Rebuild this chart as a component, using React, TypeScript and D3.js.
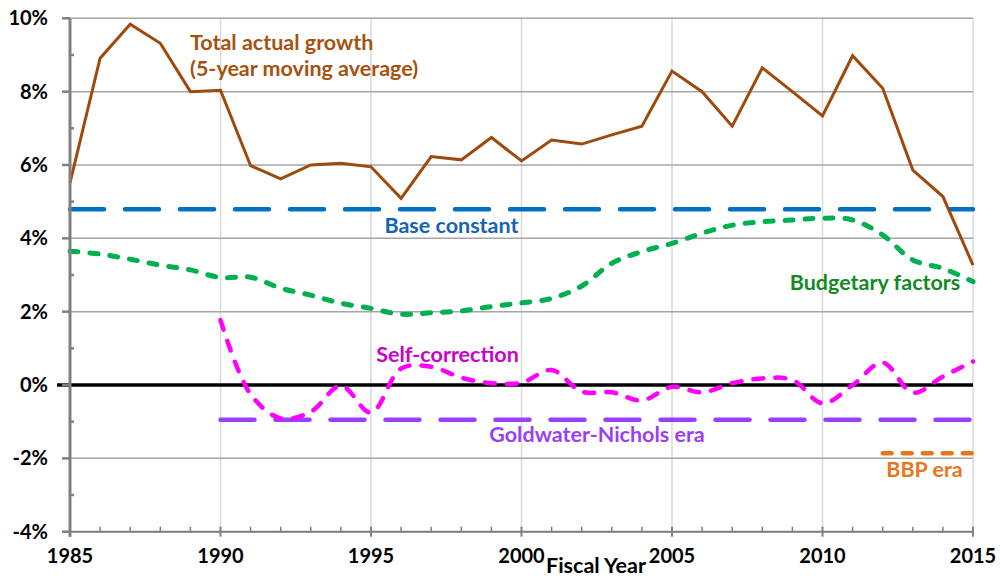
import * as d3 from "d3";

// Fiscal years and series (percent)
const years = d3.range(1985, 2016);

const totalGrowth = [
  5.51, 8.91, 9.84, 9.32, 8.0, 8.04, 5.98, 5.62, 6.0, 6.05,
  5.95, 5.09, 6.23, 6.14, 6.75, 6.11, 6.68, 6.57, 6.82, 7.06,
  8.56, 8.0, 7.06, 8.65, 8.0, 7.34, 8.98, 8.09, 5.86, 5.14, 3.27,
];

const budgetary = [
  3.65, 3.57, 3.43, 3.27, 3.14, 2.93, 2.94, 2.64, 2.45, 2.23,
  2.09, 1.93, 1.97, 2.02, 2.14, 2.24, 2.36, 2.7, 3.32, 3.64,
  3.86, 4.14, 4.36, 4.45, 4.5, 4.55, 4.5, 4.09, 3.41, 3.18, 2.82,
];

const selfYears = d3.range(1990, 2016);
const selfCorrection = [
  1.77, -0.25, -0.91, -0.73, -0.02, -0.75, 0.45, 0.5, 0.2, 0.05,
  0.06, 0.41, -0.18, -0.2, -0.42, -0.05, -0.2, 0.05, 0.18, 0.14,
  -0.5, 0.0, 0.61, -0.21, 0.23, 0.64,
];

const baseConstant = { from: 1985, to: 2015, value: 4.79 };
const goldwater = { from: 1990, to: 2015, value: -0.95 };
const bbp = { from: 2012, to: 2015, value: -1.86 };

const yTicks = [-4, -2, 0, 2, 4, 6, 8, 10];
const yMinor = [-3, -1, 1, 3, 5, 7, 9];
const xMajor = [1985, 1990, 1995, 2000, 2005, 2010, 2015];

const FONT = "Lato, 'Open Sans', sans-serif";
const LABEL_SIZE = 21.5;

export default function App() {
  const x = d3.scaleLinear().domain([1985, 2015]).range([70, 973]);
  const y = d3.scaleLinear().domain([-4, 10]).range([531.7, 18.3]);

  const straight = d3
    .line<[number, number]>()
    .x((d) => x(d[0]))
    .y((d) => y(d[1]));
  const smooth = d3
    .line<[number, number]>()
    .x((d) => x(d[0]))
    .y((d) => y(d[1]))
    .curve(d3.curveCatmullRom.alpha(0.5));

  const totalPts = years.map((yr, i) => [yr, totalGrowth[i]] as [number, number]);
  const budgetPts = years.map((yr, i) => [yr, budgetary[i]] as [number, number]);
  const selfPts = selfYears.map((yr, i) => [yr, selfCorrection[i]] as [number, number]);

  const flat = (s: { from: number; to: number; value: number }) =>
    straight([
      [s.from, s.value],
      [s.to, s.value],
    ]) as string;

  const [x0, x1] = x.range();
  const [yb, yt] = y.range();

  return (
    <svg
      width={1000}
      height={578}
      style={{ position: "absolute", left: 0, top: 0, background: "#fff" }}
      fontFamily={FONT}
    >
      {/* vertical gridlines */}
      {xMajor.slice(1).map((v) => (
        <line key={"vg" + v} x1={x(v)} x2={x(v)} y1={yt} y2={yb} stroke="#d9d9d9" strokeWidth={1.5} />
      ))}
      {/* horizontal gridlines */}
      {yTicks.map((v) => (
        <line key={"hg" + v} x1={x0} x2={x1} y1={y(v)} y2={y(v)} stroke="#a6a6a6" strokeWidth={1.5} />
      ))}

      {/* zero line */}
      <line x1={57} x2={x1} y1={y(0)} y2={y(0)} stroke="#000" strokeWidth={3.5} />

      {/* reference levels */}
      <path d={flat(baseConstant)} fill="none" stroke="#0070C0" strokeWidth={4.5} strokeLinecap="round" strokeDasharray="34 21" />
      <path d={flat(goldwater)} fill="none" stroke="#9B3FFF" strokeWidth={4.5} strokeLinecap="round" strokeDasharray="34 21" />
      <path d={flat(bbp)} fill="none" stroke="#E8761F" strokeWidth={4.5} strokeLinecap="round" strokeDasharray="9 11" />

      {/* series */}
      <path d={smooth(budgetPts) as string} fill="none" stroke="#00B050" strokeWidth={5} strokeLinecap="round" strokeDasharray="8 12" />
      <path d={smooth(selfPts) as string} fill="none" stroke="#FF00FF" strokeWidth={4.5} strokeLinecap="round" strokeDasharray="10 12" />
      <path d={straight(totalPts) as string} fill="none" stroke="#9E4A0C" strokeWidth={3} strokeLinejoin="miter" />

      {/* y axis */}
      <line x1={x0} x2={x0} y1={yt} y2={yb + 5} stroke="#808080" strokeWidth={3} />
      {yTicks.map((v) => (
        <line key={"yt" + v} x1={62} x2={x0} y1={y(v)} y2={y(v)} stroke="#808080" strokeWidth={2.5} />
      ))}
      {yMinor.map((v) => (
        <line key={"ym" + v} x1={x0} x2={x0 + 4} y1={y(v)} y2={y(v)} stroke="#808080" strokeWidth={2.5} />
      ))}
      {yTicks.map((v) => (
        <text key={"yl" + v} x={48} y={y(v) + 7} textAnchor="end" fontSize={20} fontWeight={700} fill="#000">
          {v + "%"}
        </text>
      ))}

      {/* x axis */}
      <line x1={x0} x2={x1} y1={yb} y2={yb} stroke="#808080" strokeWidth={2} />
      {years.map((v) =>
        v % 5 === 0 ? (
          <line key={"xt" + v} x1={x(v)} x2={x(v)} y1={yb - 5} y2={yb + 5} stroke="#808080" strokeWidth={2} />
        ) : (
          <line key={"xt" + v} x1={x(v)} x2={x(v)} y1={yb - 5} y2={yb} stroke="#808080" strokeWidth={1.5} />
        )
      )}
      {xMajor.map((v) => (
        <text key={"xl" + v} x={x(v)} y={563} textAnchor="middle" fontSize={20} fontWeight={700} fill="#000">
          {v}
        </text>
      ))}
      <text x={596} y={573} textAnchor="middle" fontSize={LABEL_SIZE} fontWeight={700} fill="#000">
        Fiscal Year
      </text>

      {/* series labels */}
      <text x={190} y={50} fontSize={LABEL_SIZE} fontWeight={700} fill="#A5520F">
        Total actual growth
      </text>
      <text x={190} y={76} fontSize={LABEL_SIZE} fontWeight={700} fill="#A5520F">
        (5-year moving average)
      </text>
      <text x={451.5} y={233} textAnchor="middle" fontSize={LABEL_SIZE} fontWeight={700} fill="#1464B4">
        Base constant
      </text>
      <text x={875} y={290} textAnchor="middle" fontSize={LABEL_SIZE} fontWeight={700} fill="#138A23">
        Budgetary factors
      </text>
      <text x={447.5} y={362} textAnchor="middle" fontSize={LABEL_SIZE} fontWeight={700} fill="#CC00CC">
        Self-correction
      </text>
      <text x={597} y={442} textAnchor="middle" fontSize={LABEL_SIZE} fontWeight={700} fill="#9B3FF5">
        Goldwater-Nichols era
      </text>
      <text x={924.5} y={477} textAnchor="middle" fontSize={LABEL_SIZE} fontWeight={700} fill="#E8761F">
        BBP era
      </text>
    </svg>
  );
}
